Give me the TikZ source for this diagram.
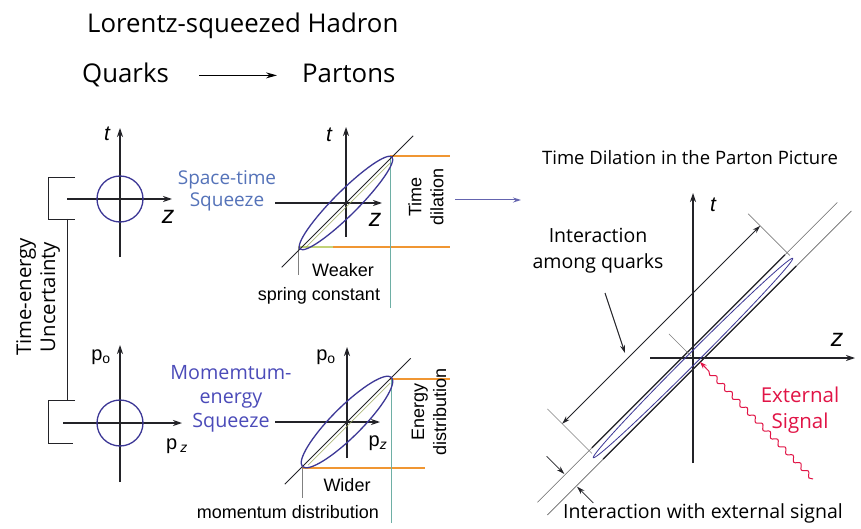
\documentclass[tikz,border=0pt]{standalone}
\usepackage{fontspec}
\setmainfont{Open Sans}
\newfontfamily\arialn{Liberation Sans}
\usetikzlibrary{arrows.meta,decorations.pathmorphing}
\definecolor{ellblue}{RGB}{60,55,150}
\definecolor{sqblue}{RGB}{85,115,185}
\definecolor{momblue}{RGB}{75,75,185}
\definecolor{orng}{RGB}{240,150,50}
\definecolor{yelgreen}{RGB}{195,210,120}
\definecolor{tealc}{RGB}{110,175,165}
\definecolor{sigred}{RGB}{225,20,70}
\definecolor{midarrow}{RGB}{100,100,175}
\definecolor{darkline}{RGB}{35,35,40}
\begin{document}
\begin{tikzpicture}[x=1pt,y=-1pt,
  big/.style={inner sep=0pt,font=\fontsize{25.8}{30}\selectfont},
  txt/.style={inner sep=0pt,font=\fontsize{19.5}{26}\selectfont,align=center},
  ar/.style={inner sep=0pt,font=\arialn\fontsize{18}{22}\selectfont,align=center},
  axlbl/.style={inner sep=0pt,font=\arialn\itshape\fontsize{21}{24}\selectfont},
  zlbl/.style={inner sep=0pt,font=\arialn\itshape\fontsize{25}{28}\selectfont},
  plbl/.style={inner sep=0pt,font=\arialn\fontsize{20}{24}\selectfont},
  ax/.style={line width=1.2pt,darkline,-{Stealth[length=9pt,width=6pt]}},
  ell/.style={line width=1.3pt,ellblue},
  brk/.style={line width=0.9pt,darkline},
  tick/.style={line width=0.6pt,gray},
  thinl/.style={line width=0.6pt,gray!80!black},
  tube/.style={line width=1.3pt,darkline},
  arr/.style={line width=1pt,darkline,-{Stealth[length=8pt,width=5pt]}},
  darr/.style={line width=1pt,darkline,{Stealth[length=8pt,width=5pt]}-{Stealth[length=8pt,width=5pt]}},
]
\useasboundingbox (0,0) rectangle (861,529);
\fill[white] (0,0) rectangle (861,529);

% ---- headings
\node[big,anchor=base west] (title) at (87,33) {Lorentz-squeezed Hadron};
\node[big,anchor=base west] (quarks) at (82,83) {Quarks};
\node[big,anchor=base west] (partons) at (302,83) {Partons};
\draw[line width=1.2pt,-{Stealth[length=11pt,width=6pt]},shorten <=30pt,shorten >=25pt]
  (quarks.east) -- (quarks.east -| partons.west);

% ---- upper left: circle in space-time
\draw[ax] (120,257) -- (120,128);
\draw[ax] (67,199) -- (172,199);
\draw[ell] (120,199) circle (23);
\node[axlbl] (t1) at (107,134) {t};
\node[zlbl] (z1) at (168,217) {z};

% ---- lower left: circle in momentum-energy
\draw[ax] (120,482) -- (120,345);
\draw[ax] (63,423) -- (182,423);
\draw[ell] (120,423) circle (23);
\node[plbl] (po1) at (101,357) {p\textsubscript{o}};
\node[plbl] (pz1) at (177,446) {p\,\textsubscript{\itshape z}};

% ---- bracket: time-energy uncertainty
\draw[brk] (75,177) -- (48,177) -- (48,219) -- (75,219);
\draw[brk] (67,219) -- (67,400);
\draw[brk] (75,400) -- (48,400) -- (48,443) -- (73,443);
\node[txt,rotate=90,font=\fontsize{20.3}{24}\selectfont] (unc) at (38,297) {Time-energy\\Uncertainty};

% ---- squeeze labels
\node[txt,text=sqblue,font=\fontsize{19}{22}\selectfont] (stsq) at (227,191) {Space-time\\Squeeze};
\node[txt,text=momblue,font=\fontsize{19.7}{24}\selectfont] (mesq) at (231,399) {Momemtum-\\energy\\Squeeze};

% ---- upper right: squeezed in space-time
\draw[orng,line width=1.2pt] (390,156) -- (450,156);
\draw[yelgreen,line width=1.2pt] (298,247) -- (333,247);
\draw[orng,line width=1.2pt] (333,247) -- (450,247);
\draw[tealc,line width=0.9pt] (390,156) -- (390,308);
\draw[tick] (298,247) -- (298,275);
\draw[ax] (346,237) -- (346,127);
\draw[ax] (275,203) -- (382,203);
\begin{scope}[shift={(346,203)},rotate=45]
  \draw[line width=1pt,darkline] (-91,0) -- (95,0);
  \draw[yelgreen!80!black,line width=0.5pt] (-60,3) -- (60,3);
  \draw[ell] (0,0) ellipse [x radius=65,y radius=12];
\end{scope}
\node[axlbl] (t2) at (329,135) {t};
\node[zlbl] (z2) at (375,220) {z};
\node[ar,rotate=90] (tdil) at (426,197) {Time\\dilation};
\node[ar] (weak) at (343,270) {Weaker};
\node[ar] (spring) at (319,296) {spring constant};

% ---- lower right: squeezed in momentum-energy
\draw[orng,line width=1.2pt] (390,379) -- (450,379);
\draw[orng,line width=1.2pt] (302,468) -- (425,468);
\draw[tealc,line width=0.9pt] (391,379) -- (391,523);
\draw[tick] (302,468) -- (302,498);
\draw[ax] (347,458) -- (347,347);
\draw[ax] (275,422) -- (380,422);
\begin{scope}[shift={(347,422)},rotate=45]
  \draw[line width=1pt,darkline] (-88,0) -- (90,0);
  \draw[yelgreen!80!black,line width=0.5pt] (-58,3) -- (58,3);
  \draw[ell] (0,0) ellipse [x radius=63,y radius=15];
\end{scope}
\node[plbl] (po2) at (326,357) {p\textsubscript{o}};
\node[plbl] (pz2) at (378,443) {p\textsubscript{\itshape z}};
\node[ar,rotate=90] (edist) at (429,412) {Energy\\distribution};
\node[ar] (wider) at (347,485) {Wider};
\node[ar] (momd) at (288,512) {momentum distribution};

% ---- arrow to the parton picture
\coordinate (ma1) at (455,200);
\coordinate (ma2) at (521,200);
\draw[line width=1pt,midarrow,-{Stealth[length=8pt,width=5pt]}] (ma1) -- (ma2);

% ---- right: time dilation in the parton picture
\node[txt,font=\fontsize{18.5}{22}\selectfont] (tdtitle) at (690,158) {Time Dilation in the Parton Picture};
\draw[ax] (693,463) -- (693,193);
\draw[ax] (650,358) -- (855,358);
\node[axlbl] (t3) at (713,205) {t};
\node[zlbl] (z3) at (837,340) {z};
\begin{scope}[shift={(693,358)},rotate=45]
  \draw[thinl] (-212,-8) -- (212,-8);
  \draw[thinl] (-214,8) -- (216,8);
  \draw[tube] (-135,-8) -- (138,-8);
  \draw[tube] (-135,8) -- (138,8);
  \draw[line width=0.8pt,ellblue] (0,0) ellipse [x radius=141,y radius=5.5];
  \draw[tick] (-139,-67) -- (-139,-4);
  \draw[tick] (141,-63) -- (141,-4);
  \draw[tick] (0,-34) -- (0,-3);
  \coordinate (da1) at (-139,-46);
  \coordinate (da2) at (141,-46);
  \draw[darr] (da1) -- (da2);
  \coordinate (ex1) at (-173,-34);
  \coordinate (ex1e) at (-173,-9);
  \coordinate (ex2) at (-173,32);
  \coordinate (ex2e) at (-173,9);
  \draw[arr,line width=0.8pt] (ex1) -- (ex1e);
  \draw[arr,line width=0.8pt] (ex2) -- (ex2e);
\end{scope}
\node[txt] (iaq) at (598,251) {Interaction\\among quarks};
\coordinate (pt1) at (605,293);
\coordinate (pt2) at (625,353);
\draw[arr] (pt1) -- (pt2);
\coordinate (sig1) at (813,479);
\coordinate (sig2) at (700,362);
\draw[sigred,line width=1pt,decorate,
  decoration={snake,amplitude=2.2pt,segment length=11pt,post length=8pt},
  -{Stealth[length=7pt,width=5pt]}] (sig1) -- (sig2);
\node[txt,text=sigred,font=\fontsize{20.5}{26}\selectfont] (ext) at (800,410) {External\\Signal};
\node[txt] (iwe) at (703,513) {Interaction with external signal};
\end{tikzpicture}
\end{document}
